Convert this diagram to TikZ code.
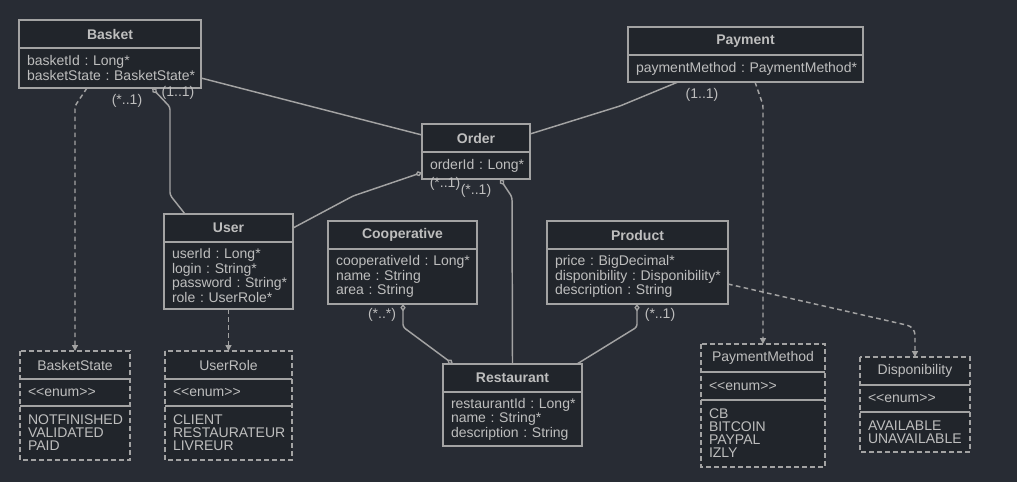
\documentclass[tikz,border=0pt]{standalone}
\usepackage{fontspec}
\setmainfont{Liberation Sans}
\usetikzlibrary{shapes, arrows.meta, positioning, calc}

\definecolor{bg}{HTML}{282C34}
\definecolor{boxfill}{HTML}{21252B}
\definecolor{boxline}{HTML}{A3A3A3}
\definecolor{boxtext}{HTML}{BEBEBE}
\hyphenpenalty=10000
\exhyphenpenalty=10000
\frenchspacing
\hfuzz=20pt

\begin{document}
\begin{tikzpicture}[
  x=0.75pt, y=-0.75pt,
  head/.style={draw=boxline, fill=boxfill, text=boxtext, line width=1pt, inner sep=0pt, outer sep=0pt,
    minimum height=21pt, anchor=north west, font=\fontsize{10.5}{9.75}\selectfont\bfseries},
  body/.style={draw=boxline, fill=boxfill, text=boxtext, line width=1pt, inner xsep=6pt, inner ysep=0pt,
    outer sep=0pt, align=left, font=\fontsize{10.5}{9.75}\selectfont},
  enumhead/.style={head, draw=none, font=\fontsize{10.5}{9.75}\selectfont},
  enumbody/.style={body, draw=none},
  enumframe/.style={draw=boxline, line width=1pt, dash pattern=on 3.5pt off 2.5pt},
  assoc/.style={draw=boxline, line width=1.1pt, rounded corners=2pt},
  dep/.style={assoc, dash pattern=on 3.5pt off 2.5pt, -{Triangle[length=4.5pt,width=4.5pt]}},
  agg/.tip={Diamond[open,length=5.5pt,width=4pt,line width=1pt]},
  mult/.style={text=boxtext, inner sep=0pt, font=\fontsize{10.5}{9.75}\selectfont}
  ]

  \fill[bg] (0,0) rectangle (1017,482);
  \useasboundingbox (0,0) rectangle (1017,482);

  % classes
  \node[head, minimum width=136.5pt] (basket) at (19,20) {Basket};
  \node[body, text width=124.5pt, minimum height=30pt, below=0pt of basket] (basketbody)
    {basketId~:~Long*\\basketState~:~BasketState*};

  \node[head, minimum width=176.25pt] (payment) at (628,27) {Payment};
  \node[body, text width=164.25pt, minimum height=20.25pt, below=0pt of payment] (paymentbody)
    {paymentMethod~:~PaymentMethod*};

  \node[head, minimum width=81pt] (order) at (422,124) {Order};
  \node[body, text width=69pt, minimum height=20.25pt, below=0pt of order] (orderbody)
    {orderId~:~Long*};

  \node[head, minimum width=96.75pt] (user) at (164,214) {User};
  \node[body, text width=84.75pt, minimum height=50.25pt, below=0pt of user] (userbody)
    {userId~:~Long*\\login~:~String*\\password~:~String*\\role~:~UserRole*};

  \node[head, minimum width=111.75pt] (coop) at (328,221) {Cooperative};
  \node[body, text width=99.75pt, minimum height=41.25pt, below=0pt of coop] (coopbody)
    {cooperativeId~:~Long*\\name~:~String\\area~:~String};

  \node[head, minimum width=135.75pt] (product) at (547,221) {Product};
  \node[body, text width=123.75pt, minimum height=41.25pt, below=0pt of product] (productbody)
    {price~:~BigDecimal*\\disponibility~:~Disponibility*\\description~:~String};

  \node[head, minimum width=104.25pt] (restaurant) at (443,364) {Restaurant};
  \node[body, text width=92.25pt, minimum height=40.5pt, below=0pt of restaurant] (restaurantbody)
    {restaurantId~:~Long*\\name~:~String*\\description~:~String};

  % enums
  \node[enumhead, minimum width=82.5pt] (basketstate) at (20,351) {BasketState};
  \node[enumbody, text width=70.5pt, minimum height=20.25pt, below=0pt of basketstate] (basketstatetag)
    {<\kern0pt<enum>\kern0pt>};
  \node[enumbody, text width=70.5pt, minimum height=40.5pt, below=0pt of basketstatetag] (basketstatevals)
    {NOTFINISHED\\VALIDATED\\PAID};
  \draw[enumframe] (basketstate.north west) rectangle (basketstatevals.south east);
  \draw[draw=boxline, line width=1pt] (basketstate.south west) -- (basketstate.south east)
    (basketstatetag.south west) -- (basketstatetag.south east);

  \node[enumhead, minimum width=95.25pt] (userrole) at (165,351) {UserRole};
  \node[enumbody, text width=83.25pt, minimum height=20.25pt, below=0pt of userrole] (userroletag)
    {<\kern0pt<enum>\kern0pt>};
  \node[enumbody, text width=83.25pt, minimum height=40.5pt, below=0pt of userroletag] (userrolevals)
    {CLIENT\\RESTAURATEUR\\LIVREUR};
  \draw[enumframe] (userrole.north west) rectangle (userrolevals.south east);
  \draw[draw=boxline, line width=1pt] (userrole.south west) -- (userrole.south east)
    (userroletag.south west) -- (userroletag.south east);

  \node[enumhead, minimum width=93pt] (paymentmethod) at (701,344) {PaymentMethod};
  \node[enumbody, text width=81pt, minimum height=21pt, below=0pt of paymentmethod] (paymentmethodtag)
    {<\kern0pt<enum>\kern0pt>};
  \node[enumbody, text width=81pt, minimum height=50.25pt, below=0pt of paymentmethodtag] (paymentmethodvals)
    {CB\\BITCOIN\\PAYPAL\\IZLY};
  \draw[enumframe] (paymentmethod.north west) rectangle (paymentmethodvals.south east);
  \draw[draw=boxline, line width=1pt] (paymentmethod.south west) -- (paymentmethod.south east)
    (paymentmethodtag.south west) -- (paymentmethodtag.south east);

  \node[enumhead, minimum width=82.5pt] (disponibility) at (860,357) {Disponibility};
  \node[enumbody, text width=70.5pt, minimum height=20.25pt, below=0pt of disponibility] (disponibilitytag)
    {<\kern0pt<enum>\kern0pt>};
  \node[enumbody, text width=70.5pt, minimum height=30pt, below=0pt of disponibilitytag] (disponibilityvals)
    {AVAILABLE\\UNAVAILABLE};
  \draw[enumframe] (disponibility.north west) rectangle (disponibilityvals.south east);
  \draw[draw=boxline, line width=1pt] (disponibility.south west) -- (disponibility.south east)
    (disponibilitytag.south west) -- (disponibilitytag.south east);

  % associations
  \draw[assoc] ($(basketbody.east)+(0,10)$) -- ($(order.west)+(0,-3)$);
  \draw[assoc, {agg}-] ($(basketbody.south west)+(133,0)$) -- ++(18,19) -- ++(0,88)
    -- ($(user.north west)+(21,0)$);
  \draw[assoc, -{agg}] (user.east) -- ++(60,-32) -- ($(orderbody.west)+(0,7)$);
  \draw[assoc, {agg}-] ($(orderbody.south west)+(78,0)$) -- ++(12,18) -- (restaurant.north);
  \draw[assoc] ($(order.east)+(0,-4)$) -- ++(90,-28) -- ($(paymentbody.south west)+(50,0)$);
  \draw[assoc, {agg}-{agg}] ($(coopbody.south west)+(75,0)$) -- ++(0,23)
    -- ($(restaurant.north west)+(10,0)$);
  \draw[assoc, {agg}-] ($(productbody.south west)+(90,0)$) -- ++(0,23)
    -- ($(restaurant.north east)+(-5,0)$);

  % dependencies
  \draw[dep] ($(basketbody.south west)+(68,0)$) -- ++(-12,18) -- (basketstate.north);
  \draw[dep] (userbody.south) -- (userrole.north);
  \draw[dep] ($(paymentbody.south west)+(127,0)$) -- ++(8,23) -- (paymentmethod.north);
  \draw[dep, rounded corners=6pt] ($(productbody.east)+(0,7.5)$) -- ($(disponibility.north)+(0,-30)$)
    -- (disponibility.north);

  % multiplicities
  \node[mult] (m1) at (178,93) {(1..1)};
  \node[mult] (m2) at (127,101) {(*..1)};
  \node[mult] (m3) at (445,184) {(*..1)};
  \node[mult] (m4) at (476,191) {(*..1)};
  \node[mult] (m5) at (702,95) {(1..1)};
  \node[mult] (m6) at (382,315) {(*..*)};
  \node[mult] (m7) at (660,315) {(*..1)};
\end{tikzpicture}
\end{document}
